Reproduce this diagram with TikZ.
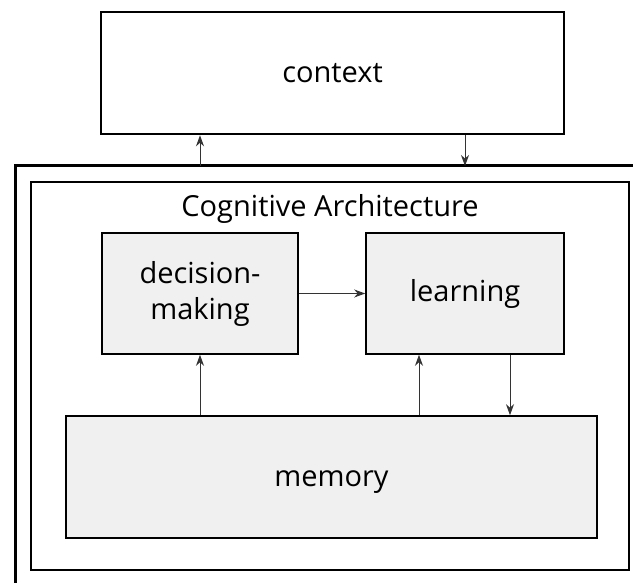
\documentclass[tikz,border=0pt]{standalone}
\usepackage{fontspec}
\setmainfont[Ligatures=NoCommon]{Open Sans}
\usetikzlibrary{arrows.meta}
\definecolor{boxgray}{HTML}{F0F0F0}
\definecolor{linkgray}{HTML}{333333}
\begin{document}
\begin{tikzpicture}[x=1pt,y=-1pt,
  bigtext/.style={font=\fontsize{29}{36}\selectfont},
  frame/.style={draw=black, line width=2.6pt, inner sep=0pt},
  unit/.style={draw=black, line width=1.6pt, fill=boxgray, inner sep=0pt,
    align=center, bigtext},
  link/.style={draw=linkgray, line width=1pt,
    -{Stealth[length=11pt,width=8pt,inset=3.5pt]}}]
  \useasboundingbox (0,0) rectangle (633,583);

  % environment box
  \node[frame, minimum width=463pt, minimum height=122pt, bigtext]
    (ctx) at (332.5,73) {context};

  % outer enclosure, open towards the right and the bottom
  \draw[black, line width=3pt] (15,590) -- (15,166) -- (640,166);
  \coordinate (outUp) at (200,166);
  \coordinate (outDown) at (465,166);

  % architecture frame
  \node[frame, line width=2.3pt, minimum width=598pt, minimum height=388pt]
    (arch) at (330,376) {};
  \node[bigtext] (title) at (330,209) {Cognitive Architecture};

  % components
  \node[unit, minimum width=196pt, minimum height=121pt]
    (dm) at (200,293.5) {decision-\\making};
  \node[unit, minimum width=198pt, minimum height=121pt]
    (learn) at (465,293.5) {learning};
  \node[unit, minimum width=531pt, minimum height=122pt, text depth=0pt,
    yshift=0pt] (mem) at (331.5,477) {\raisebox{-4pt}{memory}};

  % connectors
  \draw[link] (outUp) -- (ctx.south -| outUp);
  \draw[link] (ctx.south -| outDown) -- (outDown);
  \draw[link] (dm.east) -- (learn.west);
  \draw[link] (mem.north -| dm) -- (dm.south);
  \draw[link] (mem.north -| 419,0) -- (learn.south -| 419,0);
  \draw[link] (learn.south -| 510,0) -- (mem.north -| 510,0);
\end{tikzpicture}
\end{document}
